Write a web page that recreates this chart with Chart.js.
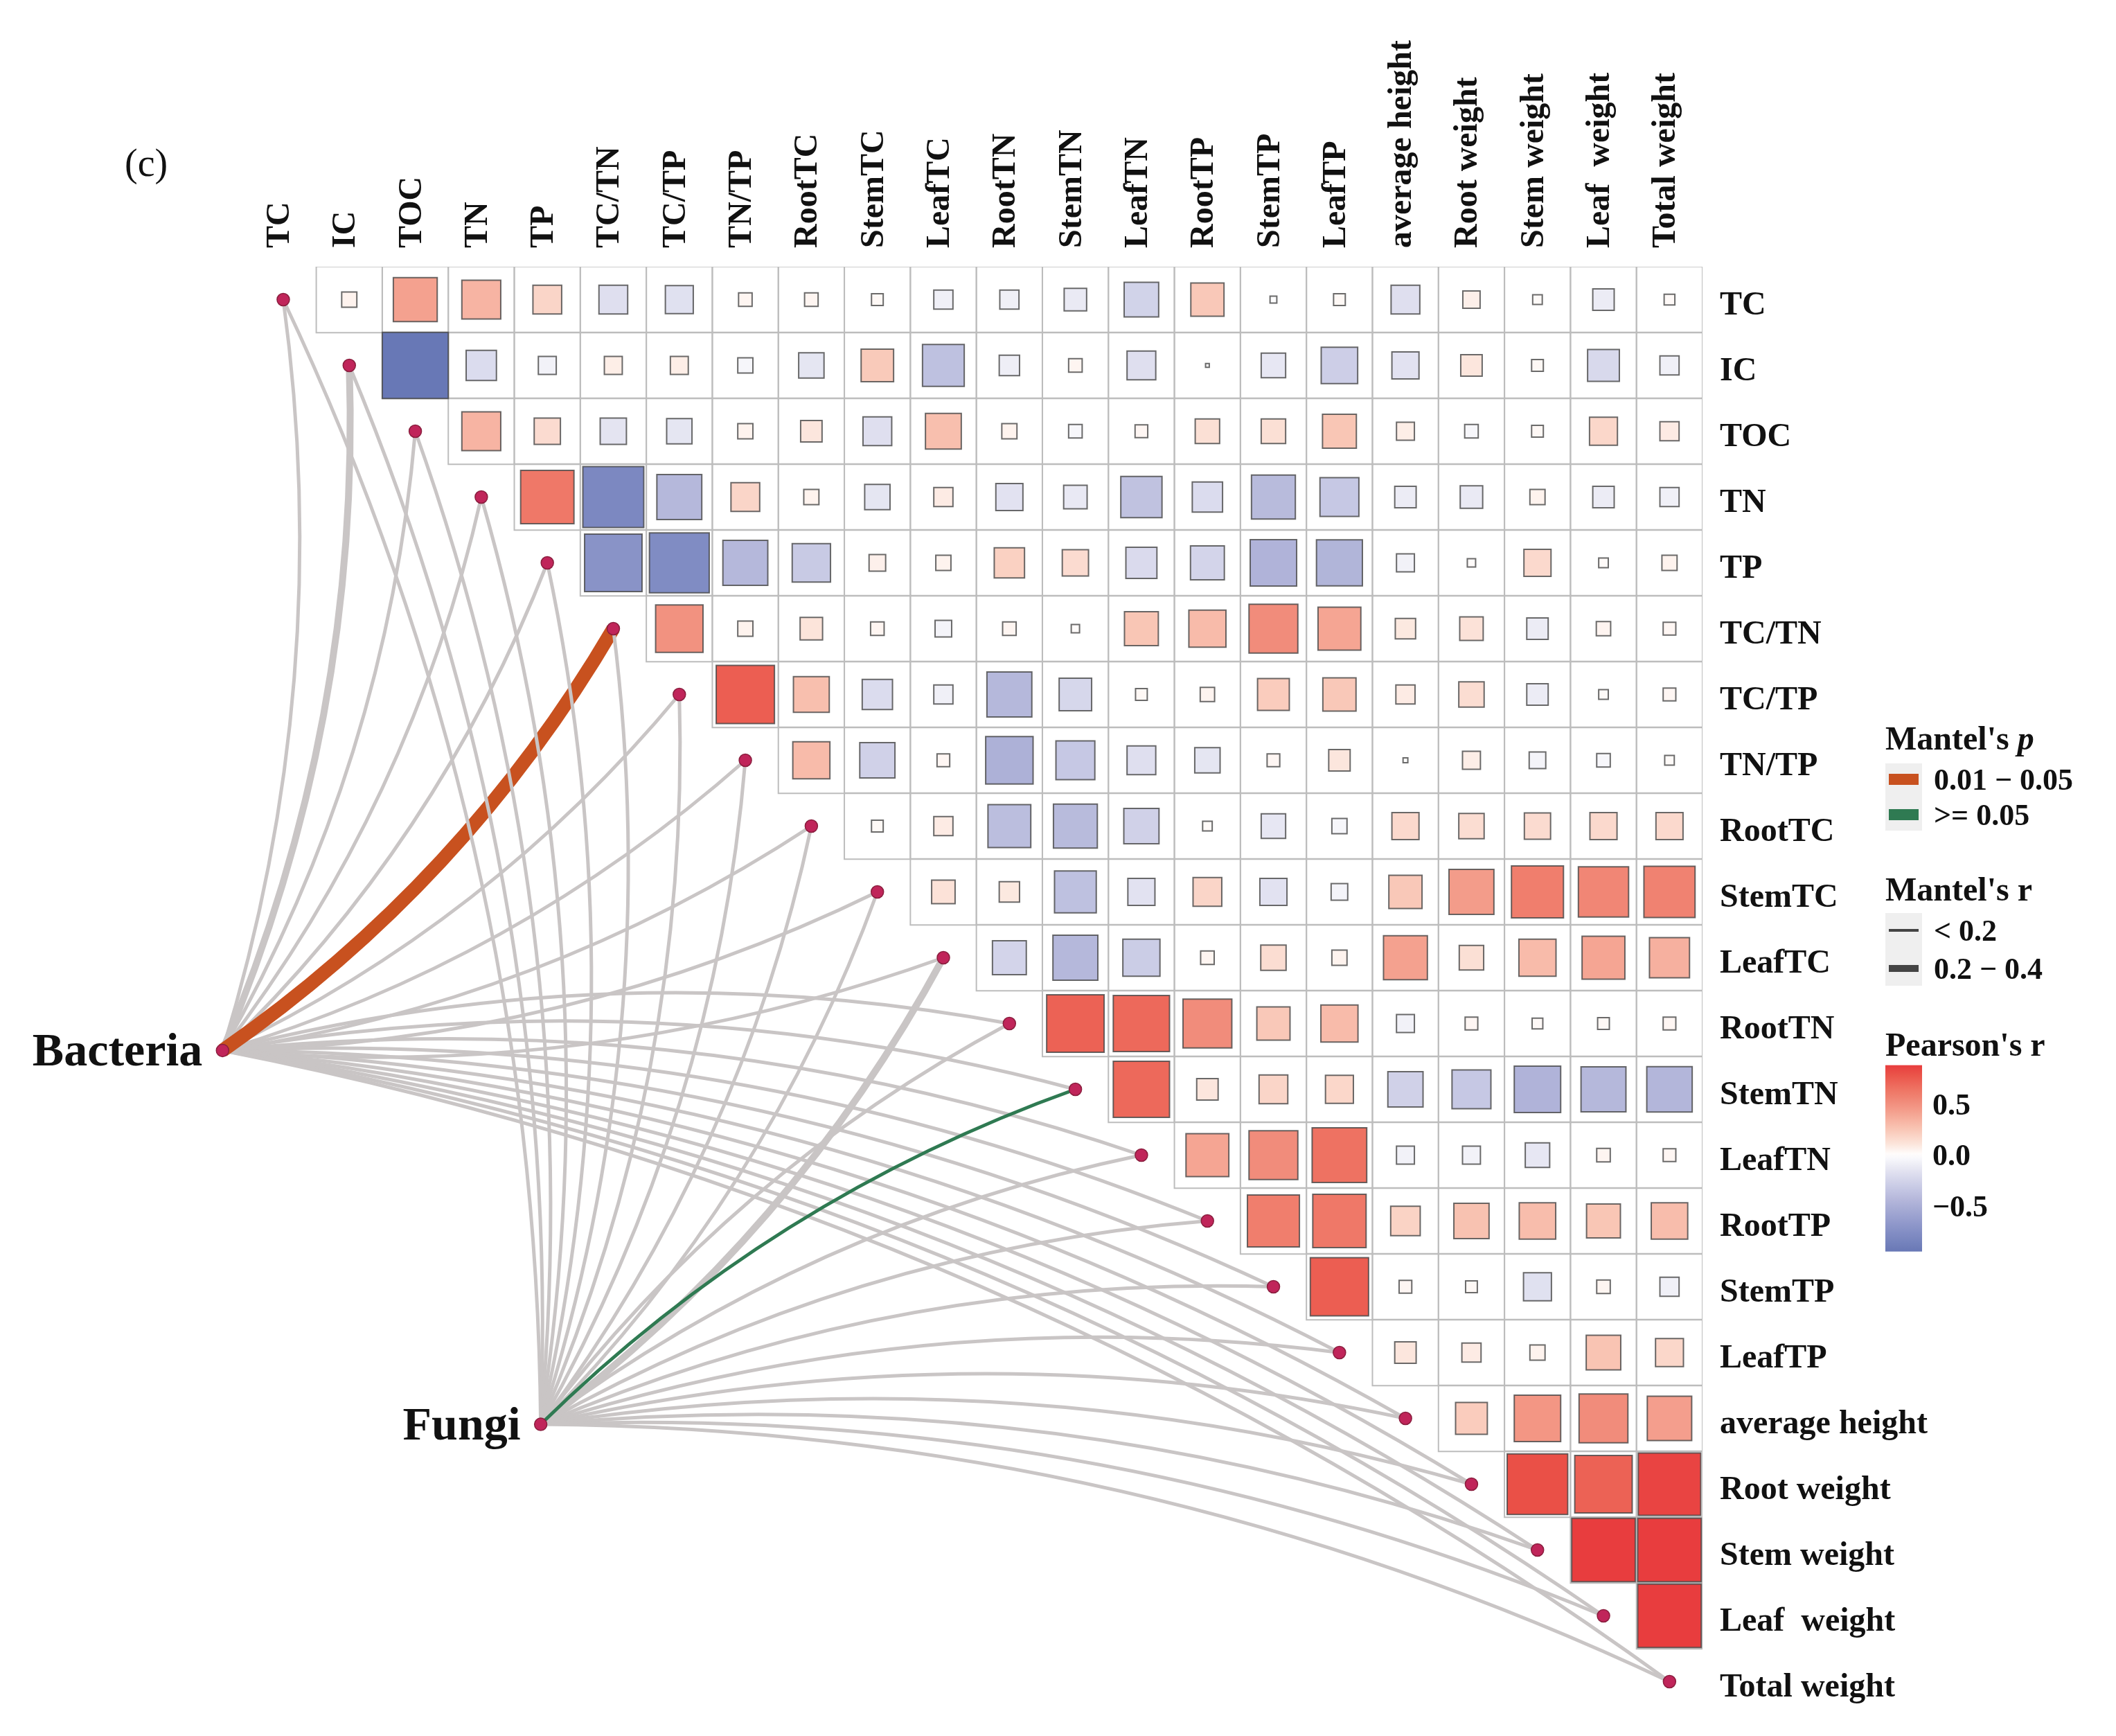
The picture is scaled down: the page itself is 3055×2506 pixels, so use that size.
<!DOCTYPE html>
<html>
<head>
<meta charset="utf-8">
<title>Mantel test and Pearson correlation</title>
<script src="https://cdn.jsdelivr.net/npm/chart.js@4.4.1/dist/chart.umd.min.js"></script>
<style>
  html, body { margin: 0; padding: 0; background: #ffffff; }
  #wrap { width: 3055px; height: 2506px; }
</style>
</head>
<body>
<div id="wrap"><canvas id="mantel-chart" width="3055" height="2506"></canvas></div>
<script>
// Variables, in matrix order (rows top to bottom, columns left to right)
const variables = ['TC', 'IC', 'TOC', 'TN', 'TP', 'TC/TN', 'TC/TP', 'TN/TP', 'RootTC', 'StemTC',
    'LeafTC', 'RootTN', 'StemTN', 'LeafTN', 'RootTP', 'StemTP', 'LeafTP', 'average height',
    'Root weight', 'Stem weight', 'Leaf  weight', 'Total weight'];

// Pearson's r, upper triangle: each row holds the columns to the right of its diagonal
const rTC = [0.05, 0.42, 0.33, 0.18, -0.18, -0.17, 0.04, 0.04, 0.03, -0.08, -0.08, -0.11, -0.26, 0.24, -0.01, 0.03, -0.18, 0.065, 0.02, -0.10, 0.025];
const rIC = [-0.95, -0.20, -0.07, 0.07, 0.07, -0.05, -0.14, 0.23, -0.38, -0.09, 0.04, -0.18, 0.003, -0.13, -0.29, -0.16, 0.10, 0.03, -0.22, -0.08];
const rTOC = [0.33, 0.15, -0.15, -0.14, 0.05, 0.10, -0.18, 0.28, 0.05, -0.04, 0.035, 0.13, 0.13, 0.25, 0.07, -0.04, 0.03, 0.17, 0.08];
const rTN = [0.62, -0.81, -0.44, 0.18, 0.05, -0.14, 0.08, -0.16, -0.12, -0.37, -0.20, -0.42, -0.33, -0.10, -0.11, 0.05, -0.10, -0.08];
const rTP = [-0.72, -0.78, -0.44, -0.32, 0.06, 0.05, 0.20, 0.15, -0.21, -0.25, -0.47, -0.46, -0.07, 0.015, 0.16, 0.02, 0.05];
const rTCTN = [0.49, 0.05, 0.11, 0.04, -0.06, 0.04, 0.015, 0.25, 0.30, 0.52, 0.40, 0.09, 0.12, -0.10, 0.045, 0.035];
const rTCTP = [0.74, 0.28, -0.20, -0.08, -0.44, -0.23, 0.03, 0.045, 0.22, 0.24, 0.08, 0.14, -0.10, 0.02, 0.035];
const rTNTP = [0.30, -0.27, 0.035, -0.49, -0.33, -0.18, -0.14, 0.035, 0.10, 0.005, 0.07, -0.06, -0.04, 0.02];
const rRootTC = [0.03, 0.08, -0.40, -0.42, -0.27, 0.02, -0.13, -0.05, 0.16, 0.14, 0.15, 0.16, 0.16];
const rStemTC = [0.12, 0.09, -0.38, -0.16, 0.18, -0.16, -0.06, 0.24, 0.44, 0.59, 0.55, 0.57];
const rLeafTC = [-0.25, -0.44, -0.30, 0.04, 0.14, 0.05, 0.42, 0.13, 0.30, 0.40, 0.35];
const rRootTN = [0.72, 0.69, 0.52, 0.24, 0.30, -0.07, 0.035, 0.025, 0.03, 0.035];
const rStemTN = [0.69, 0.10, 0.18, 0.17, -0.27, -0.33, -0.47, -0.44, -0.45];
const rLeafTN = [0.40, 0.52, 0.65, -0.07, -0.07, -0.13, 0.04, 0.035];
const rRootTP = [0.59, 0.62, 0.19, 0.27, 0.29, 0.25, 0.29];
const rStemTP = [0.74, 0.035, 0.03, -0.17, 0.04, -0.08];
const rLeafTP = [0.10, 0.08, 0.05, 0.26, 0.17];
const rHeight = [0.22, 0.47, 0.52, 0.43];
const rRootW = [0.80, 0.72, 0.85];
const rStemW = [0.88, 0.88];
const rLeafW = [0.88];
const pearsonRows = [rTC, rIC, rTOC, rTN, rTP, rTCTN, rTCTP, rTNTP, rRootTC, rStemTC, rLeafTC,
    rRootTN, rStemTN, rLeafTN, rRootTP, rStemTP, rLeafTP, rHeight, rRootW, rStemW, rLeafW];

// Mantel test classes, one entry per variable ('ns' = drawn grey, not in the legend)
const taxa = ['Bacteria', 'Fungi'];
const mantelPBacteria = ['ns', 'ns', 'ns', 'ns', 'ns', '0.01-0.05', 'ns', 'ns', 'ns', 'ns', 'ns',
    'ns', 'ns', 'ns', 'ns', 'ns', 'ns', 'ns', 'ns', 'ns', 'ns', 'ns'];
const mantelRBacteria = ['<0.2', '0.2-0.4', '<0.2', '<0.2', '<0.2', '>=0.4', '<0.2', '<0.2', '<0.2', '<0.2', '<0.2',
    '<0.2', '<0.2', '<0.2', '<0.2', '<0.2', '<0.2', '<0.2', '<0.2', '<0.2', '<0.2', '<0.2'];
const mantelPFungi = ['ns', 'ns', 'ns', 'ns', 'ns', 'ns', 'ns', 'ns', 'ns', 'ns', 'ns',
    'ns', '>=0.05', 'ns', 'ns', 'ns', 'ns', 'ns', 'ns', 'ns', 'ns', 'ns'];
const mantelRFungi = ['<0.2', '<0.2', '<0.2', '<0.2', '<0.2', '<0.2', '<0.2', '<0.2', '<0.2', '<0.2', '0.2-0.4',
    '<0.2', '<0.2', '<0.2', '<0.2', '<0.2', '<0.2', '<0.2', '<0.2', '<0.2', '<0.2', '<0.2'];
const mantelP = [mantelPBacteria, mantelPFungi];
const mantelR = [mantelRBacteria, mantelRFungi];

const pLegend = [['0.01-0.05', '0.01 \u2212 0.05'], ['>=0.05', '>= 0.05']];
const rLegend = [['<0.2', '< 0.2'], ['0.2-0.4', '0.2 \u2212 0.4']];
const colorbarTicks = [0.5, 0.0, -0.5];

// ---- styles and layout ----
const serif = '"Liberation Serif", "Times New Roman", serif';
const ink = '#111111';
const pColour = { '0.01-0.05': '#C8511F', '>=0.05': '#2F7A52', ns: '#C9C5C5' };
const rWidth = { '<0.2': 5, '0.2-0.4': 10, '>=0.4': 20 };
const dotColour = '#C0255A';
const fillStops = [
    [-0.95, [104, 120, 182]], [-0.7, [140, 149, 201]], [-0.45, [179, 182, 218]],
    [-0.25, [211, 212, 234]], [-0.1, [236, 236, 245]], [0, [255, 255, 255]],
    [0.1, [252, 230, 221]], [0.25, [249, 198, 181]], [0.45, [243, 154, 136]],
    [0.65, [238, 114, 98]], [0.8, [234, 80, 71]], [0.9, [232, 56, 60]]
];
// node anchors in grid units (column, row)
const nodeAnchors = { Bacteria: { x: -0.92, y: 11.41 }, Fungi: { x: 3.90, y: 17.09 } };
const bend = 0.11;
const flipFrom = Math.ceil(variables.length / 2);

function fillFor(v) {
    if (v <= fillStops[0][0]) return `rgb(${fillStops[0][1].join(',')})`;
    for (let k = 1; k < fillStops.length; k++) {
        const [v1, c1] = fillStops[k];
        if (v <= v1) {
            const [v0, c0] = fillStops[k - 1];
            const t = (v - v0) / (v1 - v0);
            const c = c0.map((a, i) => Math.round(a + (c1[i] - a) * t));
            return `rgb(${c.join(',')})`;
        }
    }
    return `rgb(${fillStops[fillStops.length - 1][1].join(',')})`;
}

const cells = [];
pearsonRows.forEach((row, i) => {
    row.forEach((v, k) => cells.push({ x: i + 1 + k, y: i, v: v }));
});
const maxAbs = Math.max(...cells.map(c => Math.abs(c.v)));
const rMax = Math.max(...cells.map(c => c.v));
const rMin = Math.min(...cells.map(c => c.v));

const diagonal = variables.map((name, i) => ({ x: i, y: i }));
const nodes = ['Fungi', 'Bacteria'].map(n => ({ x: nodeAnchors[n].x, y: nodeAnchors[n].y }));

function cellPx(chart) {
    const xs = chart.scales.x;
    return xs.getPixelForValue(1) - xs.getPixelForValue(0);
}

function drawLink(ctx, x0, y0, x1, y1, flip) {
    const dx = x1 - x0, dy = y1 - y0;
    const s = flip ? -1 : 1;
    const cx = (x0 + x1) / 2 - s * dy * bend;
    const cy = (y0 + y1) / 2 + s * dx * bend;
    ctx.beginPath();
    ctx.moveTo(x0, y0);
    ctx.quadraticCurveTo(cx, cy, x1, y1);
    ctx.stroke();
}

const mantelLinks = {
    id: 'mantelLinks',
    beforeDatasetsDraw(chart) {
        const { ctx } = chart;
        const xs = chart.scales.x, ys = chart.scales.y;
        ctx.save();
        ctx.lineCap = 'butt';
        taxa.forEach((name, t) => {
            const a = nodeAnchors[name];
            const x0 = xs.getPixelForValue(a.x), y0 = ys.getPixelForValue(a.y);
            // grey links first, coloured ones on top
            [true, false].forEach(greyPass => {
                variables.forEach((v, j) => {
                    const pc = mantelP[t][j];
                    if ((pc === 'ns') !== greyPass) return;
                    ctx.strokeStyle = pColour[pc];
                    ctx.lineWidth = rWidth[mantelR[t][j]];
                    drawLink(ctx, x0, y0, xs.getPixelForValue(j), ys.getPixelForValue(j), j >= flipFrom);
                });
            });
        });
        ctx.restore();
    }
};

function drawLegend(ctx) {
    const lx = 2722, kw = 53, tx = 2792;
    ctx.textAlign = 'left';
    ctx.textBaseline = 'alphabetic';

    // Mantel's p
    ctx.fillStyle = ink;
    ctx.font = `bold 48px ${serif}`;
    ctx.fillText("Mantel's ", lx, 1082);
    const w = ctx.measureText("Mantel's ").width;
    ctx.font = `italic bold 48px ${serif}`;
    ctx.fillText('p', lx + w, 1082);
    ctx.fillStyle = '#EFEFEF';
    ctx.fillRect(lx, 1102, kw, 97);
    pLegend.forEach(([key, label], k) => {
        const cy = 1125 + k * 51;
        ctx.strokeStyle = pColour[key];
        ctx.lineWidth = 16;
        ctx.beginPath(); ctx.moveTo(lx + 5, cy); ctx.lineTo(lx + kw - 5, cy); ctx.stroke();
        ctx.fillStyle = ink;
        ctx.font = `bold 44px ${serif}`;
        ctx.fillText(label, tx, cy + 15);
    });

    // Mantel's r
    ctx.fillStyle = ink;
    ctx.font = `bold 48px ${serif}`;
    ctx.fillText("Mantel's r", lx, 1300);
    ctx.fillStyle = '#EFEFEF';
    ctx.fillRect(lx, 1318, kw, 105);
    rLegend.forEach(([key, label], k) => {
        const cy = 1343 + k * 55;
        ctx.strokeStyle = '#444444';
        ctx.lineWidth = rWidth[key] - (k === 0 ? 1 : 0);
        ctx.beginPath(); ctx.moveTo(lx + 5, cy); ctx.lineTo(lx + kw - 5, cy); ctx.stroke();
        ctx.fillStyle = ink;
        ctx.font = `bold 44px ${serif}`;
        ctx.fillText(label, tx, cy + 15);
    });

    // Pearson's r colour bar
    ctx.fillStyle = ink;
    ctx.font = `bold 48px ${serif}`;
    ctx.fillText("Pearson's r", lx, 1524);
    const zeroY = 1667, perUnit = 147;
    const top = zeroY - rMax * perUnit, bottom = zeroY - rMin * perUnit;
    const grad = ctx.createLinearGradient(0, top, 0, bottom);
    for (let k = 0; k <= 40; k++) {
        const v = rMax - (rMax - rMin) * k / 40;
        grad.addColorStop(k / 40, fillFor(v));
    }
    ctx.fillStyle = grad;
    ctx.fillRect(lx, top, kw, bottom - top);
    ctx.font = `bold 44px ${serif}`;
    ctx.fillStyle = ink;
    colorbarTicks.forEach(t => {
        const label = (t < 0 ? '\u2212' : '') + Math.abs(t).toFixed(1);
        ctx.fillText(label, tx - 2, zeroY - t * perUnit + 15);
    });
}

const matrixLabels = {
    id: 'matrixLabels',
    afterDraw(chart) {
        const { ctx } = chart;
        const xs = chart.scales.x, ys = chart.scales.y;
        ctx.save();
        ctx.fillStyle = ink;
        ctx.font = `bold 48px ${serif}`;
        ctx.textBaseline = 'alphabetic';

        // column headers, reading upwards
        const headY = ys.getPixelForValue(-0.5) - 27;
        variables.forEach((name, j) => {
            ctx.save();
            ctx.translate(xs.getPixelForValue(j) + 8, headY);
            ctx.rotate(-Math.PI / 2);
            ctx.textAlign = 'left';
            ctx.fillText(name, 0, 0);
            ctx.restore();
        });

        // row labels
        const rowX = xs.getPixelForValue(21.5) + 25;
        ctx.textAlign = 'left';
        variables.forEach((name, i) => {
            ctx.fillText(name, rowX, ys.getPixelForValue(i) + 21);
        });

        // node labels
        ctx.font = `bold 68px ${serif}`;
        ctx.textAlign = 'right';
        taxa.forEach(name => {
            const a = nodeAnchors[name];
            ctx.fillText(name, xs.getPixelForValue(a.x) - 29, ys.getPixelForValue(a.y) + 22);
        });

        // panel tag
        ctx.font = `56px ${serif}`;
        ctx.textAlign = 'left';
        ctx.fillText('(c)', 180, 254);

        drawLegend(ctx);
        ctx.restore();
    }
};

function displayMantelChart() {
    const ctx = document.getElementById('mantel-chart').getContext('2d');
    new Chart(ctx, {
        type: 'scatter',
        data: {
            datasets: [
                {
                    label: 'nodes',
                    data: diagonal.concat(nodes),
                    pointStyle: 'circle',
                    pointRadius: 9,
                    backgroundColor: dotColour,
                    borderColor: '#8A1E3E',
                    borderWidth: 1.5,
                    order: 1
                },
                {
                    label: "Pearson's r",
                    data: cells,
                    pointStyle: 'rect',
                    pointRadius: (c) => cellPx(c.chart) * Math.sqrt(Math.abs(c.raw.v) / maxAbs) / Math.SQRT2,
                    backgroundColor: (c) => fillFor(c.raw.v),
                    borderColor: 'rgba(70, 70, 70, 0.8)',
                    borderWidth: 2,
                    order: 2
                },
                {
                    label: 'grid',
                    data: cells.map(c => ({ x: c.x, y: c.y })),
                    pointStyle: 'rect',
                    pointRadius: (c) => cellPx(c.chart) / Math.SQRT2,
                    backgroundColor: 'rgba(0,0,0,0)',
                    borderColor: '#BDBDBD',
                    borderWidth: 2,
                    order: 3
                }
            ]
        },
        options: {
            responsive: false,
            devicePixelRatio: 1,
            animation: false,
            events: [],
            layout: { padding: { left: 266, right: 597, top: 385, bottom: 31 } },
            scales: {
                x: { type: 'linear', min: -1.5, max: 21.5, display: false },
                y: { type: 'linear', min: -0.5, max: 21.5, reverse: true, display: false }
            },
            plugins: {
                legend: { display: false },
                tooltip: { enabled: false }
            }
        },
        plugins: [mantelLinks, matrixLabels]
    });
}

window.addEventListener('load', displayMantelChart);
</script>
</body>
</html>
